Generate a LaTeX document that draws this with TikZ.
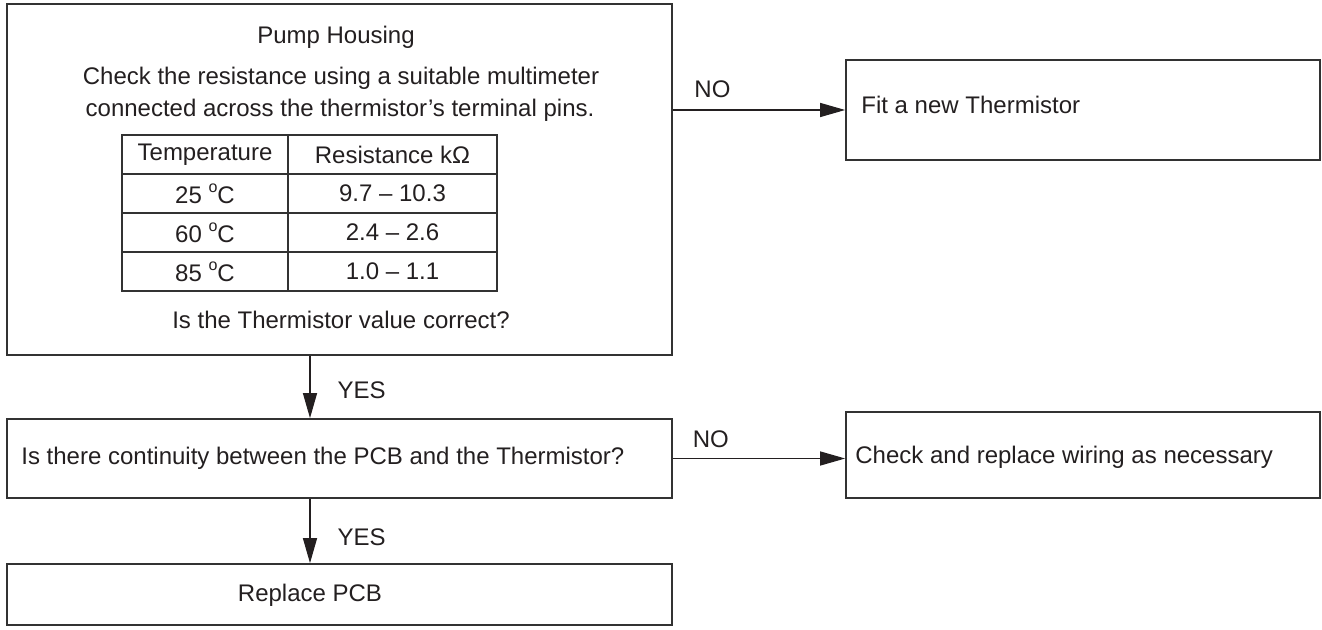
\documentclass[tikz,border=0pt]{standalone}
\usepackage{fontspec}
\setmainfont{Liberation Sans}
\usepackage{tikz}
\usetikzlibrary{arrows.meta,positioning}
\definecolor{ink}{RGB}{35,31,32}
\definecolor{rule}{RGB}{50,50,50}

\begin{document}
\begin{tikzpicture}[x=0.5pt, y=-0.5pt, >={Triangle[length=12.5pt,width=7pt]},
  box/.style={draw=rule, line width=0.85pt, inner sep=0pt},
  txt/.style={text=ink, font=\fontsize{12}{14}\selectfont, inner sep=0pt},
  flow/.style={->, draw=ink, line width=0.65pt},
  tab/.style={draw=rule, line width=0.75pt}]
  \useasboundingbox (0,0) rectangle (1322,630);

  % Boxes
  \node[box, minimum width=332.5pt, minimum height=175.5pt] (housing) at (339.5,179.5) {};
  \node[box, minimum width=237pt, minimum height=50pt] (fit) at (1083,110) {};
  \node[box, minimum width=332.5pt, minimum height=39.5pt] (cont) at (339.5,458.5) {};
  \node[box, minimum width=237pt, minimum height=43pt] (wire) at (1083,455) {};
  \node[box, minimum width=332.5pt, minimum height=30.5pt] (pcb) at (339.5,594.5) {};

  % Texts
  \node[txt] (title) at (336,37) {Pump Housing};
  \node[txt] (check1) at (341,78) {Check the resistance using a suitable multimeter};
  \node[txt] (check2) at (340,110) {connected across the thermistor’s terminal pins.};
  \node[txt] (query) at (341,320) {Is the Thermistor value correct?};
  \node[txt, anchor=west] (fittxt) at (861,105) {Fit a new Thermistor};
  \node[txt, anchor=west] (conttxt) at (21,458) {Is there continuity between the PCB and the Thermistor?};
  \node[txt, anchor=west] (wiretxt) at (855,457) {Check and replace wiring as necessary};
  \node[txt] (pcbtxt) at (310,595) {Replace PCB};

  % Table
  \draw[tab] (122,135) rectangle (497,291);
  \foreach \y in {174,213,252}
    \draw[tab] (122,\y) -- (497,\y);
  \draw[tab] (288,135) -- (288,291);
  \node[txt] (head1) at (205,154.5) {Temperature};
  \node[txt] (head2) at (392.5,154.5) {Resistance kΩ};
  \foreach \t/\r/\y [count=\i] in {25/9.7 -- 10.3/193.5, 60/2.4 -- 2.6/232.5, 85/1.0 -- 1.1/271.5} {
    \node[txt] (temp\i) at (205,\y) {\t\ \raisebox{0.45em}{\fontsize{8}{8}\selectfont o}C};
    \node[txt] (res\i) at (392.5,\y) {\r};
  }

  % Connectors
  \draw[flow] (fit.west -| housing.east) -- node[txt, above=6pt, pos=0.23] (no1) {NO} (fit.west);
  \draw[flow] (cont.east) -- node[txt, above=5pt, pos=0.22] (no2) {NO} (cont.east -| wire.west);
  \draw[flow] (housing.south -| pcbtxt) -- node[txt, right=13.5pt, pos=0.55] (yes1) {YES} (cont.north -| pcbtxt);
  \draw[flow] (cont.south -| pcbtxt) -- node[txt, right=13.5pt, pos=0.6] (yes2) {YES} (pcb.north -| pcbtxt);
\end{tikzpicture}
\end{document}
